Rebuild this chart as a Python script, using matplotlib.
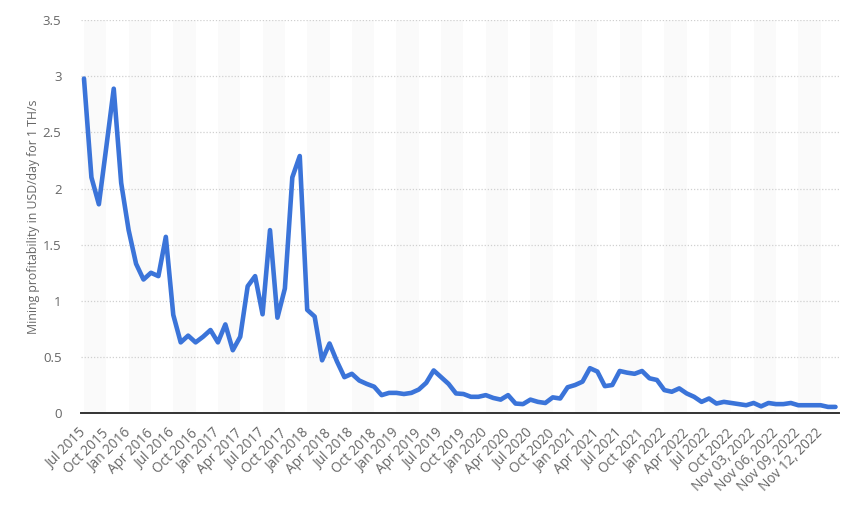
import pandas as pd
import matplotlib.pyplot as plt

plt.rcParams['font.family'] = ['Open Sans', 'DejaVu Sans']

# Monthly values Jul 2015 - Oct 2022, then daily values Nov 01 - Nov 14, 2022
months = [d.strftime('%b %Y') for d in pd.date_range('2015-07-01', '2022-10-01', freq='MS')]
days = [f'Nov {d:02d}, 2022' for d in range(1, 15)]
categories = months + days

profit = [
    2.98, 2.10, 1.86, 2.37, 2.89, 2.05, 1.63, 1.33, 1.19, 1.25, 1.22, 1.57,
    0.875, 0.63, 0.69, 0.63, 0.68, 0.74, 0.63, 0.79, 0.56, 0.68, 1.13, 1.22,
    0.88, 1.63, 0.85, 1.11, 2.10, 2.29, 0.92, 0.86, 0.47, 0.62, 0.46, 0.32,
    0.35, 0.29, 0.26, 0.235, 0.16, 0.18, 0.18, 0.17, 0.18, 0.21, 0.27, 0.38,
    0.32, 0.26, 0.175, 0.17, 0.145, 0.145, 0.16, 0.135, 0.12, 0.16, 0.085, 0.08,
    0.12, 0.10, 0.09, 0.14, 0.13, 0.23, 0.25, 0.28, 0.40, 0.37, 0.24, 0.25,
    0.375, 0.36, 0.35, 0.375, 0.31, 0.295, 0.205, 0.19, 0.22, 0.175, 0.145, 0.10,
    0.13, 0.085, 0.10, 0.09,
    0.08, 0.07, 0.09, 0.06, 0.09, 0.08, 0.08, 0.09, 0.07, 0.07, 0.07, 0.07,
    0.055, 0.055,
]

x = list(range(len(categories)))

fig = plt.figure(figsize=(8.5, 5.05), dpi=100)
ax = fig.add_axes([0.0953, 0.182, 0.892, 0.778])

# alternating background bands
for start in range(0, len(categories), 6):
    ax.axvspan(start, start + 3, color='#fafafa', zorder=0, lw=0)

ax.plot(x, profit, color='#3b74d9', lw=3.3, solid_joinstyle='round',
        solid_capstyle='round', zorder=3)

ax.set_xlim(-0.4, len(categories) - 0.5)
ax.set_ylim(0, 3.5)
ax.set_yticks([0, 0.5, 1, 1.5, 2, 2.5, 3, 3.5])
ax.set_yticklabels(['0', '0.5', '1', '1.5', '2', '2.5', '3', '3.5'])
ax.yaxis.grid(True, color='#d0d0d0', linestyle=(0, (1, 1.5)), lw=0.9)
ax.set_axisbelow(True)

ticks = x[::3]
ax.set_xticks(ticks)
ax.set_xticklabels([categories[i] for i in ticks], rotation=45, ha='right',
                   va='center', rotation_mode='anchor')

for s in ['top', 'right', 'left']:
    ax.spines[s].set_visible(False)
ax.spines['bottom'].set_color('#333333')
ax.spines['bottom'].set_linewidth(1.4)
ax.spines['bottom'].set_zorder(4)

ax.tick_params(axis='y', length=0, pad=14, labelsize=9.5, labelcolor='#666666')
ax.tick_params(axis='x', length=0, pad=13, labelsize=9.8, labelcolor='#666666')

ax.set_ylabel('Mining profitability in USD/day for 1 TH/s', fontsize=8.8,
              color='#666666', labelpad=2)

fig.savefig('out.png', dpi=100, facecolor='white')
